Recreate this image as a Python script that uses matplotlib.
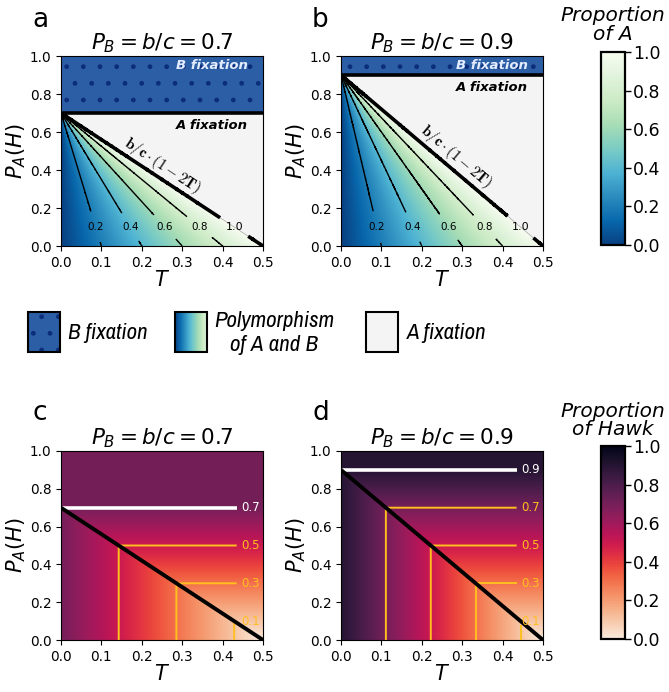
import numpy as np
import matplotlib
matplotlib.use("Agg")
import matplotlib.pyplot as plt
from matplotlib.patches import Rectangle
from matplotlib.colors import Normalize
from matplotlib.cm import ScalarMappable
import seaborn as sns

W, H = 669, 692

# data
bc_values = [0.7, 0.9]
letters_top = ["a", "b"]
letters_bot = ["c", "d"]
a_levels = [0.2, 0.4, 0.6, 0.8]
hawk_levels = [0.1, 0.3, 0.5, 0.7]
cbar_ticks = [0.0, 0.2, 0.4, 0.6, 0.8, 1.0]
ticks_T = [0.0, 0.1, 0.2, 0.3, 0.4, 0.5]
ticks_P = [0.0, 0.2, 0.4, 0.6, 0.8, 1.0]
legend_labels = ["B fixation", "Polymorphism\nof A and B", "A fixation"]
bline_label_T = [0.235, 0.265]

T = np.linspace(0, 0.5, 601)
P = np.linspace(0, 1, 801)
TT, PP = np.meshgrid(T, P)

cmap_a = plt.get_cmap("GnBu_r")
cmap_h = sns.color_palette("rocket_r", as_cmap=True)
bfix_color = "#2c5ea6"
bfix_dots = "#0b2d7a"
afix_color = "#f4f4f4"
gold = "#ffbf1f"

fig = plt.figure(figsize=(W / 100, H / 100), dpi=100)


def px_axes(l, t, r, b):
    return fig.add_axes([l / W, 1 - b / H, (r - l) / W, (b - t) / H])


def style_axes(ax, bc):
    ax.set_xlim(0, 0.5)
    ax.set_ylim(0, 1)
    ax.set_xticks(ticks_T)
    ax.set_yticks(ticks_P)
    ax.tick_params(labelsize=9.8)
    ax.set_xlabel(r"$T$", fontsize=15, labelpad=0)
    ax.set_ylabel(r"$P_A(H)$", fontsize=15, labelpad=1)
    ax.set_title(r"$P_B = b/c = %.1f$" % bc, fontsize=15.5, pad=5)


def prop_A(bc):
    with np.errstate(divide="ignore", invalid="ignore"):
        f = 2 * TT * bc / (bc - PP)
    f[PP >= bc] = np.nan
    return np.ma.masked_invalid(f)


def prop_hawk(bc):
    return np.minimum(np.maximum(PP, bc * (1 - 2 * TT)), bc)


top_axes = [px_axes(61, 56, 263, 246), px_axes(341, 56, 543, 246)]
bot_axes = [px_axes(61, 451, 263, 640), px_axes(341, 451, 543, 640)]

# ---- top row: proportion of A
for ax, bc, let, lt in zip(top_axes, bc_values, letters_top, bline_label_T):
    style_axes(ax, bc)
    ax.set_facecolor(afix_color)
    f = prop_A(bc)
    fm = np.ma.masked_where(~(f.filled(2) <= 1), f)
    ax.imshow(fm, extent=(0, 0.5, 0, 1), origin="lower", aspect="auto",
              cmap=cmap_a, vmin=0, vmax=1, interpolation="bilinear", zorder=1)
    cs = ax.contour(TT, PP, f, levels=a_levels, colors="k", linewidths=1.0, zorder=3)
    labs = ax.clabel(cs, fmt="%.1f", fontsize=7.5, inline=True, inline_spacing=8,
                     manual=[(L / 2 * (1 - 0.1 / bc), 0.1) for L in a_levels])
    cs1 = ax.contour(TT, PP, f, levels=[1.0], colors="k", linewidths=2.6, zorder=3)
    labs += ax.clabel(cs1, fmt="%.1f", fontsize=8, inline=True, inline_spacing=8,
                      manual=[(0.5 * (1 - 0.1 / bc), 0.1)])
    for t in labs:
        t.set_rotation(0)
    ax.fill_between(T, bc, 1, facecolor=bfix_color, edgecolor=bfix_dots,
                    hatch=".", linewidth=0, zorder=2)
    ax.axhline(bc, color="k", lw=2.6, zorder=4)
    ax.text(0.463, 0.95, "B fixation", ha="right", va="center", color="#e4edff",
            fontsize=9.5, fontweight="bold", fontstyle="italic", zorder=5)
    ax.text(0.463, bc - 0.065, "A fixation", ha="right", va="center", color="k",
            fontsize=9.5, fontweight="bold", fontstyle="italic", zorder=5)
    p1 = ax.transData.transform((0, bc))
    p2 = ax.transData.transform((0.5, 0))
    ang = np.degrees(np.arctan2(p2[1] - p1[1], p2[0] - p1[0]))
    d = 8.5
    ax.annotate(r"$\mathbf{b/c\cdot(1-2T)}$", xy=(lt, bc * (1 - 2 * lt)),
                xytext=(d * np.sin(np.radians(-ang)), d * np.cos(np.radians(-ang))),
                textcoords="offset points", rotation=ang, rotation_mode="anchor",
                ha="center", va="center", fontsize=11, math_fontfamily="cm", zorder=5)

# ---- bottom row: proportion of Hawk
for ax, bc, let in zip(bot_axes, bc_values, letters_bot):
    style_axes(ax, bc)
    h = prop_hawk(bc)
    ax.imshow(h, extent=(0, 0.5, 0, 1), origin="lower", aspect="auto",
              cmap=cmap_h, vmin=0, vmax=1, interpolation="bilinear", zorder=1)
    levs = [L for L in hawk_levels if L < bc - 1e-9]
    cs = ax.contour(TT, PP, h, levels=levs, colors=gold, linewidths=1.4, zorder=3)
    ax.clabel(cs, fmt="%.1f", fontsize=8.5, inline=True, manual=[(0.47, L) for L in levs])
    cw = ax.contour(TT, PP, PP, levels=[bc], colors="white", linewidths=2.6, zorder=3)
    ax.clabel(cw, fmt="%.1f", fontsize=8.5, inline=True, manual=[(0.47, bc)])
    ax.plot(T, bc * (1 - 2 * T), color="k", lw=2.8, zorder=4)

# panel letters
for let, x, y in zip(letters_top + letters_bot, [32, 312, 32, 313], [27, 27, 420, 420]):
    fig.text(x / W, 1 - y / H, let, fontsize=19, va="baseline")

# ---- colorbars
for (box, cmap, title, pad) in [((601, 52, 625, 245), cmap_a, "Proportion\nof A", 9),
                                ((601, 446, 625, 639), cmap_h, "Proportion\nof Hawk", 8)]:
    cax = px_axes(*box)
    cb = fig.colorbar(ScalarMappable(Normalize(0, 1), cmap), cax=cax, ticks=cbar_ticks)
    cb.outline.set_linewidth(1.6)
    cax.tick_params(labelsize=12.5, width=1.0, length=4, pad=2)
    cax.set_title(title, fontstyle="italic", fontsize=14.5, pad=pad, linespacing=0.95)

# ---- legend row
lax = fig.add_axes([0, 1 - 365 / H, 1, 60 / H])
lax.axis("off")
leg_font = ["Archivo Narrow", "Liberation Sans"]
lax.add_patch(Rectangle((28, 312), 32, 40, facecolor=bfix_color, edgecolor=bfix_dots,
                        hatch=".", lw=0))
lax.add_patch(Rectangle((28, 312), 32, 40, facecolor="none", edgecolor="k", lw=1.5))
lax.imshow(np.linspace(0, 0.85, 100)[None, :], extent=(175, 207, 352, 312),
           cmap=cmap_a, vmin=0, vmax=1, aspect="auto")
lax.add_patch(Rectangle((175, 312), 32, 40, facecolor="none", edgecolor="k", lw=1.5))
lax.add_patch(Rectangle((366, 312), 32, 40, facecolor=afix_color, edgecolor="k", lw=1.5))
for x, ha, lab in zip([68, 274, 407], ["left", "center", "left"], legend_labels):
    lax.text(x, 333, lab, ha=ha, va="center", fontsize=16.5, fontstyle="italic",
             family=leg_font, linespacing=1.2)
lax.set_xlim(0, W)
lax.set_ylim(365, 305)

fig.savefig("out.png", dpi=100)
